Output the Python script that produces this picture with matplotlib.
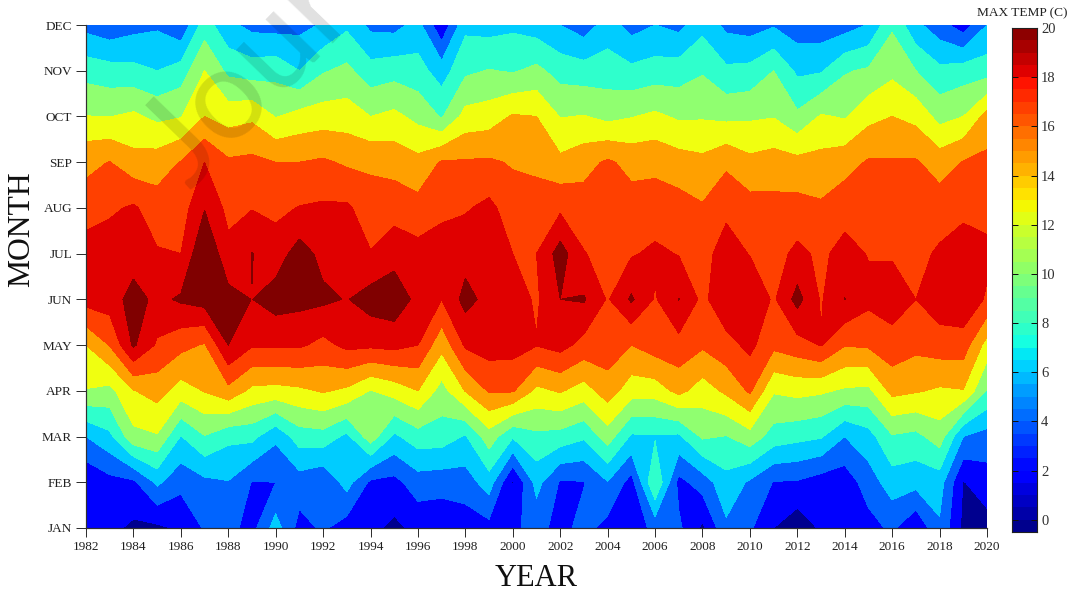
import numpy as np
import matplotlib
matplotlib.use("Agg")
import matplotlib.pyplot as plt
from matplotlib.colors import ListedColormap, BoundaryNorm

plt.rcParams['font.family'] = ['Liberation Serif', 'DejaVu Serif']

years = list(range(1982, 2021))
month_labels = ['JAN', 'FEB', 'MAR', 'APR', 'MAY', 'JUN', 'JUL', 'AUG', 'SEP', 'OCT', 'NOV', 'DEC']

jan = [1.2,1.5,.6,.6,1.3,3.2,3.6,2.3,5.9,2.3,3.3,2,1.5,.5,1.6,1.5,1.9,2.3,2.6,3.7,2.3,3.7,2.3,1.5,3.7,3.4,.6,4.6,3.3,1.0,-.4,1.3,1.4,2.2,3.4,1.2,4.7,.5,.2]
feb = [1.3,2.3,2.6,5.4,3.6,4.5,4.9,2.9,3,4,3.2,5.8,2.6,2.4,4,3.8,4,6,.8,5.7,2.8,2.9,4.9,2.2,9,2.4,3.9,6.3,4.7,2.9,2.8,2,1.8,4,6,5.7,5.9,.9,2.05]
mar = [5,6.5,10.4,10.8,6.9,8.9,7.5,7.6,5.4,8,8.2,6.5,10.1,6.6,8.1,8,6.8,10.1,7.2,8.5,8.2,7.3,10,6.7,6.8,6.6,9.3,8.9,10.2,8.1,7.6,7.2,5,6.2,8.8,8.4,10,5,4.2]
apr = [10.9,10.4,12.9,13.8,12.1,13.1,14.4,12.5,12.3,12.6,13.2,12.6,10.9,11.8,13,10.2,13.1,15.2,15.2,12.5,13.2,12.1,14,11.9,11.9,13.6,12,13.4,15.3,11.2,11.6,11.3,10.7,10.5,13.6,13.2,12.7,12.9,8.8]
may = [13,15.1,19.3,16.7,15.6,14.8,19,17.2,17.3,17.3,16.4,17.5,17.4,17.6,17,13.6,17.3,17.9,17.8,17.1,17.7,16.3,16.2,15,16,16.3,15.3,16.3,17.5,15.5,16.2,17.1,15.1,15.3,16.2,15.5,16,16,12.2]
jun = [17.8,18,19.8,18.5,19.3,19.9,19.7,18.97,19.9,19.6,19.4,18.9,19.9,20.3,18.4,17,19.7,18.3,18,16.7,19,19.2,16.8,19.3,16.8,19.05,16.5,18.5,18.8,16.7,19.7,16.8,19.05,17.5,18,17,18.2,18.6,16.7]
jul = [18.3,18.3,18,17.2,17,21,17.6,19.06,18,19.9,18.4,18.5,17.1,18.2,17.7,18,18.2,18.4,17,17,19.9,17.1,16.3,16.8,17.4,16.9,16.2,18,16.9,16.2,17.5,16.6,17.7,16.9,16.8,16.4,17.3,18,17.5]
aug = [15.7,16.6,17.3,15.9,16,18.9,16.4,16.9,16.5,17.1,17.3,17.3,16,16.2,15.7,16.5,16.8,17.5,16,16,16.6,15.9,15.9,15.8,15.9,15.8,15.2,16.5,15.8,15.6,15.7,15.3,16.2,16.2,16,15.9,16,16.5,16.3]
sep = [14.6,15.05,13.7,14,15.1,17,15.3,15.5,15,15,15.3,14.7,14.6,14.2,13.6,15.2,15.2,15.3,14.8,14.5,13.5,14.3,15.3,14.4,14.5,13.9,13.5,14.6,13.5,13.9,13.6,13.7,14.2,15.2,15.2,15.2,14.1,15.1,15.5]
oct_ = [11.05,10.95,11.4,10.5,10.9,13,12.2,12.6,10.9,11.7,12,12,11,11.5,10.4,8.8,11.7,12,13.2,13,10.9,11.1,10.4,10.9,11.4,10.7,10.8,10.5,10.7,10.9,9.4,11.2,10.8,12.4,13,12.4,10.3,11,13.7]
nov = [8.2,7.8,7.6,7,7.9,11,8.5,8,8.3,7,8.8,9.5,7.8,8.2,7.8,6,8.6,9.1,8.8,9.5,8.2,7.9,8,7.5,7.9,8,8.8,7.4,7.6,9,6.6,6.8,8.8,9.3,10.5,9,7.5,8,8.1]
dec = [4.3,3.6,4.3,4.7,3.4,8,5.5,4.4,4.2,4.4,5.2,6.6,4.5,4.3,5.7,1.4,6.5,6.2,6.6,6,5,3.9,5.9,4.2,5,4.4,6.4,4.5,4.1,4.8,3.9,3.8,4.1,5.1,8.7,5.5,3.8,1.9,5]

levels = [1, 3, 5, 7, 9, 11, 13, 15, 17, 19]
band_colors = ['#00008f', '#0000ff', '#0064ff', '#00ccff', '#2fffcc', '#90ff70',
               '#f0ff10', '#ffa000', '#ff4000', '#e00000', '#800000']
cbar_steps = np.arange(-0.5, 20.01, 0.5)
cbar_ticks = list(range(0, 21, 2))

Z = np.array([jan, feb, mar, apr, may, jun, jul, aug, sep, oct_, nov, dec])
X = np.array(years)
Y = np.arange(12)

W, H = 1076, 594
PX = 72 / 100
fig = plt.figure(figsize=(W / 100, H / 100), dpi=100, facecolor='white')
ax = fig.add_axes([86 / W, 1 - 528 / H, (987 - 86) / W, (528 - 25) / H])

cmap = ListedColormap(band_colors[1:-1])
cmap.set_under(band_colors[0])
cmap.set_over(band_colors[-1])
ax.contourf(X, Y, Z, levels=levels, cmap=cmap, norm=BoundaryNorm(levels, cmap.N), extend='both')

ax.set_xlim(1982, 2020)
ax.set_ylim(0, 11)
ax.set_xticks(years[::2])
ax.set_yticks(Y)
ax.set_yticklabels(month_labels)
grey = '#303030'
ax.tick_params(axis='x', direction='out', length=9 * PX, width=1 * PX, color=grey, labelsize=9.5, labelcolor='#202020', pad=4 * PX)
ax.tick_params(axis='y', direction='out', length=10 * PX, width=1 * PX, color=grey, labelsize=9.5, labelcolor='#202020', pad=4 * PX)
for s in ('top', 'right'):
    ax.spines[s].set_visible(False)
for s in ('left', 'bottom'):
    ax.spines[s].set_color(grey)
    ax.spines[s].set_linewidth(1.2 * PX)

fig.text(536 / W, 1 - 579 / H, 'YEAR', fontsize=22, ha='center', va='center', color='#101010')
fig.text(22 / W, 1 - 229 / H, 'MONTH', fontsize=22.8, rotation=90, ha='center', va='center', color='#101010')

# colour bar
cax = fig.add_axes([1011.5 / W, 1 - 532 / H, (1037 - 1011.5) / W, (532 - 28) / H])
cstep = np.array([cbar_steps]).T
cax.pcolormesh([0, 1], cbar_steps, (cstep[:-1] + 0.25), cmap='jet', vmin=-0.5, vmax=20, shading='flat')
cax.set_xlim(0, 1)
cax.set_ylim(-0.5, 20)
cax.set_xticks([])
cax.set_yticks(cbar_ticks)
cax.tick_params(axis='y', direction='in', length=6 * PX, width=1 * PX, left=True, right=True,
                labelleft=False, labelright=True, labelsize=10.5, pad=4 * PX, color='#101010', labelcolor='#303030')
for s in cax.spines.values():
    s.set_linewidth(1.1 * PX)
    s.set_color('#202020')
fig.text(1022 / W, 1 - 13 / H, 'MAX TEMP (C)', fontsize=9.6, ha='center', va='center', color='#202020')

# faint watermark across the top of the plot
fig.text(190 / W, 1 - 190 / H, 'Jour', fontsize=92, rotation=46, ha='left', va='baseline',
         family=['Lato', 'Liberation Sans'], color='black', alpha=0.12, rotation_mode='anchor', zorder=10)

fig.savefig('out.png', dpi=100)
